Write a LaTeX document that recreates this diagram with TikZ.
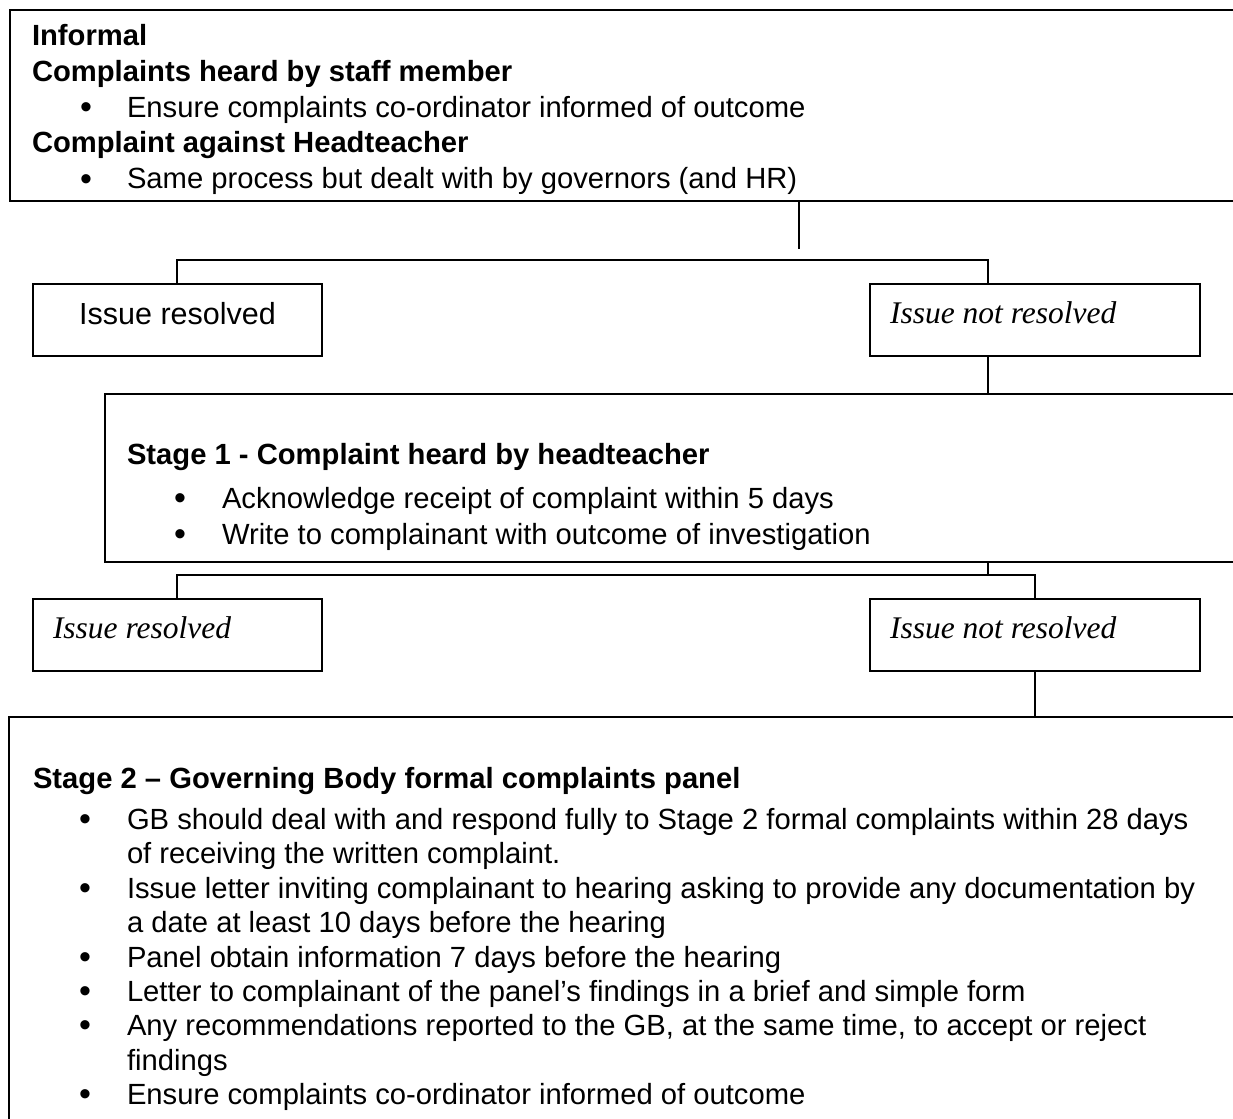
\documentclass[tikz,border=0pt]{standalone}
\usepackage{fontspec}
\setmainfont{Liberation Sans}
\newfontfamily\serifit{Liberation Serif}
\begin{document}
\begin{tikzpicture}[x=1pt,y=-1pt]
\tikzset{
  box/.style={draw, line width=1.3pt, inner sep=0pt, outer sep=0pt, anchor=north west},
  conn/.style={line width=1.3pt},
  txt/.style={inner sep=0pt, outer sep=0pt, font=\fontsize{29.2}{35}\selectfont},
  bigtxt/.style={inner sep=0pt, outer sep=0pt, font=\fontsize{30.5}{35}\selectfont},
  itx/.style={inner sep=0pt, outer sep=0pt, font=\fontsize{31.5}{35}\serifit\itshape},
  blt/.style={inner sep=0pt, outer sep=0pt, anchor=base, font=\fontsize{34}{35}\selectfont}
}
\useasboundingbox (0,0) rectangle (1233,1118);
% boxes
\node[box, minimum width=1223.5pt, minimum height=191pt] (top) at (10,10) {};
\node[box, minimum width=289pt, minimum height=72pt] (r1) at (33,284) {};
\node[box, minimum width=330pt, minimum height=72pt] (n1) at (870,284) {};
\node[box, minimum width=1128.5pt, minimum height=168pt] (s1) at (105,394) {};
\node[box, minimum width=289pt, minimum height=72pt] (r2) at (33,599) {};
\node[box, minimum width=330pt, minimum height=72pt] (n2) at (870,599) {};
\node[box, minimum width=1224.5pt, minimum height=420pt] (s2) at (9,717) {};
% connectors
\coordinate (c0) at (799,249);
\coordinate (h1l) at (177,260);
\coordinate (h1r) at (988,260);
\coordinate (j2) at (988,575);
\coordinate (h2l) at (177,575);
\coordinate (h2r) at (1035,575);
\draw[conn] (top.south -| c0) -- (c0);
\draw[conn] (r1.north -| h1l) |- (h1r) -- (n1.north -| h1r);
\draw[conn] (n1.south -| h1r) -- (s1.north -| h1r);
\draw[conn] (s1.south -| j2) -- (j2);
\draw[conn] (r2.north -| h2l) |- (h2r) -- (n2.north -| h2r);
\draw[conn] (n2.south -| h2r) -- (s2.north -| h2r);
% top box text
\node[txt, anchor=base west] (t1) at (32,46) {\bfseries Informal};
\node[txt, anchor=base west] (t2) at (32,82) {\bfseries Complaints heard by staff member};
\node[blt] (t3b) at (86,119) {\textbullet};
\node[txt, anchor=base west] (t3) at (127,118) {Ensure complaints co-ordinator informed of outcome};
\node[txt, anchor=base west] (t4) at (32,153) {\bfseries Complaint against Headteacher};
\node[blt] (t5b) at (86,190) {\textbullet};
\node[txt, anchor=base west] (t5) at (127,189) {Same process but dealt with by governors (and HR)};
% outcome boxes
\node[bigtxt, anchor=base] (r1t) at (177.5,324) {Issue resolved};
\node[itx, anchor=base west] (n1t) at (890,323) {Issue not resolved};
\node[itx, anchor=base west] (r2t) at (53,638) {Issue resolved};
\node[itx, anchor=base west] (n2t) at (890,638) {Issue not resolved};
% stage 1
\node[txt, anchor=base west] (s1a) at (127,464) {\bfseries Stage 1 - Complaint heard by headteacher};
\node[blt] (s1bb) at (180,509) {\textbullet};
\node[txt, anchor=base west] (s1b) at (222,508) {Acknowledge receipt of complaint within 5 days};
\node[blt] (s1cb) at (180,545) {\textbullet};
\node[txt, anchor=base west] (s1c) at (222,544) {Write to complainant with outcome of investigation};
% stage 2
\node[txt, anchor=base west] (s2a) at (33,788) {\bfseries Stage 2 – Governing Body formal complaints panel};
\node[blt] (s2bb) at (85,830) {\textbullet};
\node[txt, anchor=base west] (s2b) at (127,829) {GB should deal with and respond fully to Stage 2 formal complaints within 28 days};
\node[txt, anchor=base west] (s2b2) at (127,863) {of receiving the written complaint.};
\node[blt] (s2cb) at (85,899) {\textbullet};
\node[txt, anchor=base west] (s2c) at (127,898) {Issue letter inviting complainant to hearing asking to provide any documentation by};
\node[txt, anchor=base west] (s2c2) at (127,932) {a date at least 10 days before the hearing};
\node[blt] (s2db) at (85,968) {\textbullet};
\node[txt, anchor=base west] (s2d) at (127,967) {Panel obtain information 7 days before the hearing};
\node[blt] (s2eb) at (85,1002) {\textbullet};
\node[txt, anchor=base west] (s2e) at (127,1001) {Letter to complainant of the panel’s findings in a brief and simple form};
\node[blt] (s2fb) at (85,1036) {\textbullet};
\node[txt, anchor=base west] (s2f) at (127,1035) {Any recommendations reported to the GB, at the same time, to accept or reject};
\node[txt, anchor=base west] (s2f2) at (127,1070) {findings};
\node[blt] (s2gb) at (85,1105) {\textbullet};
\node[txt, anchor=base west] (s2g) at (127,1104) {Ensure complaints co-ordinator informed of outcome};
\end{tikzpicture}
\end{document}
